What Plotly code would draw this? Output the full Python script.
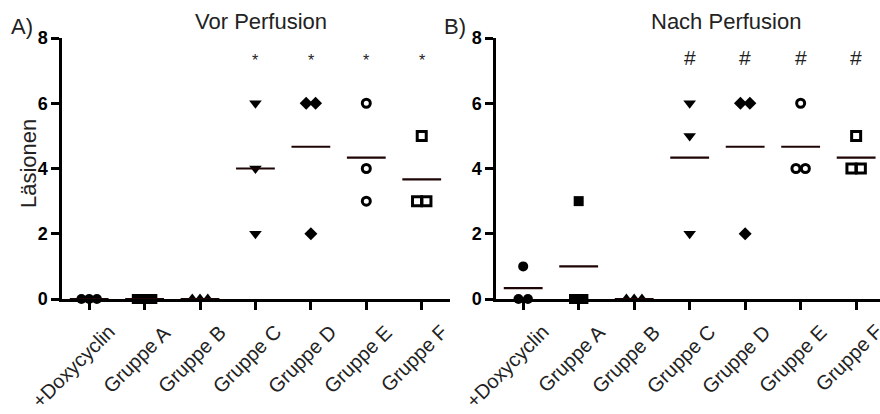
import plotly.graph_objects as go

categories = ["+Doxycyclin", "Gruppe A", "Gruppe B", "Gruppe C", "Gruppe D", "Gruppe E", "Gruppe F"]

vor_values = [
    [0, 0, 0],
    [0, 0, 0],
    [0, 0, 0],
    [6, 4, 2],
    [6, 6, 2],
    [6, 4, 3],
    [5, 3, 3],
]
nach_values = [
    [1, 0, 0],
    [3, 0, 0],
    [0, 0, 0],
    [6, 5, 2],
    [6, 6, 2],
    [6, 4, 4],
    [5, 4, 4],
]
vor_marks = ["*", "*", "*", "*"]
nach_marks = ["#", "#", "#", "#"]
mark_groups = [3, 4, 5, 6]
y_ticks = [0, 2, 4, 6, 8]

symbols = ["circle", "square", "triangle-up", "triangle-down", "diamond", "circle-open", "square-open"]
sizes = {"circle": 10, "square": 10, "triangle-up": 11, "triangle-down": 11,
         "diamond": 10, "circle-open": 8, "square-open": 9}
FONT = "Liberation Sans, Arial, sans-serif"
TXT = "#222222"

W, H = 880, 414
T, B = 38, 115
PH = H - T - B

fig = go.Figure()


def jitter(vals):
    offs = []
    for i, v in enumerate(vals):
        same = [j for j, w in enumerate(vals) if w == v]
        n = len(same)
        k = same.index(i)
        if n == 1:
            offs.append(0.0)
        elif n == 2:
            offs.append([-0.085, 0.085][k])
        else:
            offs.append([-0.14, 0.0, 0.14][k])
    return offs


def add_panel(values, xa, ya):
    lx, ly = [], []
    for gi, vals in enumerate(values):
        offs = jitter(vals)
        sym = symbols[gi]
        is_open = sym.endswith("open")
        fig.add_trace(go.Scatter(
            x=[gi + o for o in offs], y=vals, mode="markers",
            xaxis=xa, yaxis=ya, cliponaxis=False, showlegend=False,
            marker=dict(symbol=sym, size=sizes[sym], color="black",
                        line=dict(color="black", width=3 if is_open else 0)),
        ))
        m = sum(vals) / len(vals)
        lx += [gi - 0.35, gi + 0.35, None]
        ly += [m, m, None]
    fig.add_trace(go.Scatter(x=lx, y=ly, mode="lines", xaxis=xa, yaxis=ya,
                             cliponaxis=False, showlegend=False,
                             line=dict(color="#1e0505", width=2.2)))


add_panel(vor_values, "x", "y")
add_panel(nach_values, "x2", "y2")

axis_common = dict(
    showgrid=False, zeroline=False, showline=True, linecolor="black", linewidth=2.5,
    ticks="outside", tickcolor="black", tickwidth=2.5, automargin=False,
)

xcommon = dict(axis_common, tickvals=list(range(7)), showticklabels=False, ticklen=8)
ycommon = dict(axis_common, range=[0, 8], tickvals=y_ticks, ticklen=8,
               tickfont=dict(family=FONT, size=18, color="black", weight="bold"))

fig.update_layout(
    width=W, height=H,
    margin=dict(l=0, r=0, t=T, b=B),
    paper_bgcolor="white", plot_bgcolor="white",
    xaxis=dict(xcommon, domain=[62 / W, 450 / W], range=[-0.49, 6.51], anchor="y"),
    yaxis=dict(ycommon, anchor="x"),
    xaxis2=dict(xcommon, domain=[496 / W, 1.0], range=[-0.49, 6.43], anchor="y2"),
    yaxis2=dict(ycommon, anchor="x2"),
)

for g, t in zip(mark_groups, vor_marks):
    fig.add_annotation(x=g, y=7.3, xref="x", yref="y", text=t, showarrow=False,
                       font=dict(family=FONT, size=16, color=TXT))
for g, t in zip(mark_groups, nach_marks):
    fig.add_annotation(x=g, y=7.4, xref="x2", yref="y2", text=t, showarrow=False,
                       font=dict(family=FONT, size=21, color=TXT))

# rotated category labels
for xa in ["x", "x2"]:
    for gi, cat in enumerate(categories):
        fig.add_annotation(x=gi, y=0, xref=xa, yref="paper", text=cat, showarrow=False,
                           xanchor="right", yanchor="top", textangle=-45,
                           xshift=33, yshift=-19,
                           font=dict(family=FONT, size=20, color=TXT))


def py(p):
    return (H - B - p) / PH


texts = [
    ("Vor Perfusion", 261, 22, 22, 0),
    ("Nach Perfusion", 726, 22, 22, 0),
    ("A)", 22, 26, 22, 0),
    ("B)", 455, 26, 22, 0),
    ("Läsionen", 28, 163, 22, -90),
]
for text, x, y, size, ang in texts:
    fig.add_annotation(text=text, x=x / W, y=py(y), xref="paper", yref="paper",
                       showarrow=False, xanchor="center", yanchor="middle", textangle=ang,
                       font=dict(family=FONT, size=size, color=TXT))

fig.write_html("out.html", config={"displayModeBar": False},
               post_script="document.body.style.margin='0';document.body.style.overflow='hidden';")
